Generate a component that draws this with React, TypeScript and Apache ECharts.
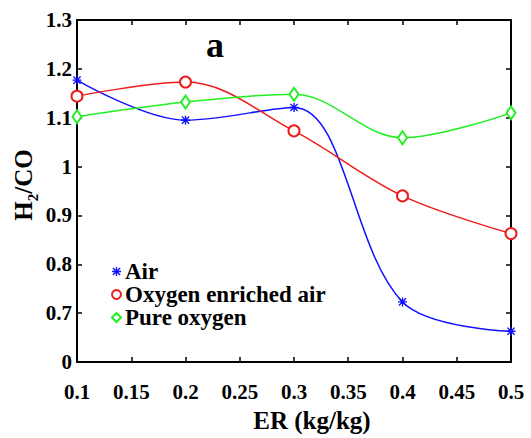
import React, { useEffect, useRef } from "react";
import * as echarts from "echarts";

const erValues = [0.1, 0.2, 0.3, 0.4, 0.5];
const airValues = [1.177, 1.095, 1.121, 0.723, 0.663];
const enrichedValues = [1.144, 1.173, 1.073, 0.94, 0.863];
const pureValues = [1.102, 1.132, 1.148, 1.059, 1.11];
const seriesNames = ["Air", "Oxygen enriched air", "Pure oxygen"];

const FONT = "'Liberation Serif', 'DejaVu Serif', serif";
const STAR =
  "path://M0 8.5H20V11.5H0Z M8.5 0H11.5V20H8.5Z M3.06 0.94L19.06 16.94L16.94 19.06L0.94 3.06Z M16.94 0.94L19.06 3.06L3.06 19.06L0.94 16.94Z";

const pairs = (ys: number[]) => erValues.map((x, i) => [x, ys[i]]);

export default function App() {
  const ref = useRef<HTMLDivElement>(null);
  useEffect(() => {
    if (!ref.current) return;
    const chart = echarts.init(ref.current, null, { renderer: "svg" });
    const axisLine = { show: true, lineStyle: { color: "#000", width: 2 } };
    const tick = { show: true, inside: true, length: 5, lineStyle: { color: "#000", width: 1.5 } };
    const labelStyle = { color: "#000", fontFamily: FONT, fontWeight: "bold" as const, fontSize: 21 };
    const fmtX = (v: number) => String(parseFloat(v.toFixed(2)));
    const fmtY = (v: number) => {
      const r = parseFloat(v.toFixed(2));
      if (Math.abs(r - 0.6) < 1e-6) return "0";
      return String(r);
    };
    chart.setOption({
      animation: false,
      backgroundColor: "#fff",
      grid: { left: 77, right: 20, top: 20, bottom: 76, containLabel: false },
      xAxis: [
        {
          type: "value",
          min: 0.1,
          max: 0.5,
          interval: 0.05,
          axisLine,
          axisTick: tick,
          splitLine: { show: false },
          axisLabel: { ...labelStyle, margin: 19, formatter: fmtX },
        },
        {
          type: "value",
          position: "top",
          min: 0.1,
          max: 0.5,
          interval: 0.05,
          axisLine,
          axisTick: tick,
          splitLine: { show: false },
          axisLabel: { show: false },
        },
      ],
      yAxis: [
        {
          type: "value",
          min: 0.6,
          max: 1.3,
          interval: 0.1,
          axisLine,
          axisTick: tick,
          splitLine: { show: false },
          axisLabel: { ...labelStyle, margin: 5, formatter: fmtY },
        },
        {
          type: "value",
          position: "right",
          min: 0.6,
          max: 1.3,
          interval: 0.1,
          axisLine,
          axisTick: tick,
          splitLine: { show: false },
          axisLabel: { show: false },
        },
      ],
      legend: {
        orient: "vertical",
        left: 106,
        top: 255,
        itemWidth: 9,
        itemHeight: 9,
        itemGap: 0,
        textStyle: { color: "#000", fontFamily: FONT, fontWeight: "bold", fontSize: 23, lineHeight: 20, padding: [0, 0, 0, -1] },
        data: [
          { name: seriesNames[0], icon: STAR, itemStyle: { color: "#1010ff" } },
          { name: seriesNames[1], icon: "emptyCircle" },
          { name: seriesNames[2], icon: "emptyDiamond" },
        ],
      },
      series: [
        {
          name: seriesNames[0],
          type: "line",
          smooth: 0.35,
          data: pairs(airValues),
          symbol: STAR,
          symbolSize: 9,
          color: "#1010ff",
          lineStyle: { width: 1.5, color: "#1010ff" },
          itemStyle: { color: "#1010ff" },
        },
        {
          name: seriesNames[1],
          type: "line",
          smooth: 0.35,
          data: pairs(enrichedValues),
          symbol: "emptyCircle",
          symbolSize: 11,
          color: "#ee1c1c",
          lineStyle: { width: 1.5, color: "#ee1c1c" },
          itemStyle: { color: "#ee1c1c", borderWidth: 1.5 },
        },
        {
          name: seriesNames[2],
          type: "line",
          smooth: 0.35,
          data: pairs(pureValues),
          symbol: "emptyDiamond",
          symbolSize: [9, 13],
          color: "#22ee22",
          lineStyle: { width: 1.5, color: "#22ee22" },
          itemStyle: { color: "#22ee22", borderWidth: 1.5 },
        },
      ],
      graphic: [
        {
          type: "text",
          x: 215,
          y: 45,
          style: { text: "a", fontFamily: FONT, fontWeight: "bold", fontSize: 36, fill: "#000", align: "center", verticalAlign: "middle" },
        },
        {
          type: "text",
          x: 312,
          y: 420,
          style: { text: "ER (kg/kg)", fontFamily: FONT, fontWeight: "bold", fontSize: 25, fill: "#000", align: "center", verticalAlign: "middle" },
        },
        {
          type: "text",
          x: 23,
          y: 185,
          rotation: Math.PI / 2,
          style: {
            text: "{b|H}{s|2}{b|/CO}",
            align: "center",
            verticalAlign: "middle",
            rich: {
              b: { fontFamily: FONT, fontWeight: "bold", fontSize: 25, fill: "#000", color: "#000", lineHeight: 34, verticalAlign: "middle" },
              s: { fontFamily: FONT, fontWeight: "bold", fontSize: 15, fill: "#000", color: "#000", lineHeight: 15, verticalAlign: "bottom" },
            },
          },
        },
      ],
    });
    return () => chart.dispose();
  }, []);
  return <div ref={ref} style={{ width: 531, height: 438, position: "absolute", left: 0, top: 0 }} />;
}
